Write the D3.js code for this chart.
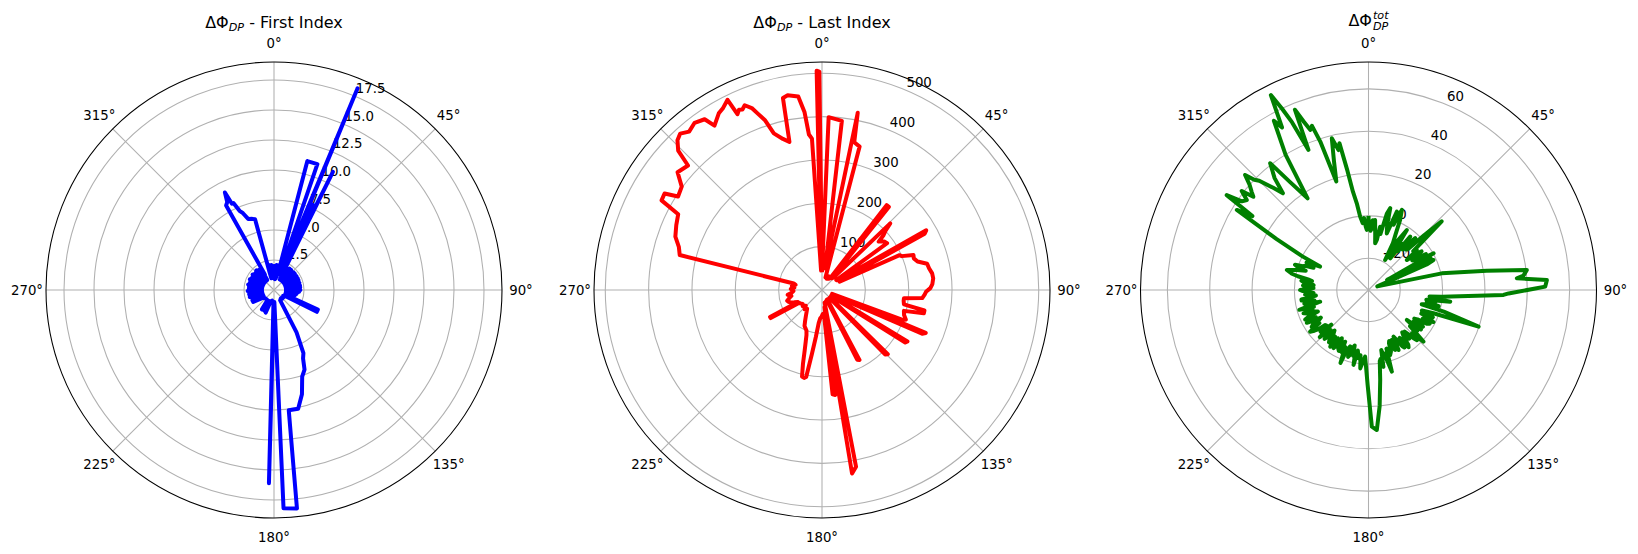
<!DOCTYPE html>
<html><head><meta charset="utf-8">
<script src="https://cdn.jsdelivr.net/npm/d3@7"></script>
<style>
body{margin:0;background:#fff}
svg{display:block}
text{font-family:"DejaVu Sans",sans-serif;fill:#000}
</style></head>
<body><svg id="c" width="1638" height="554"></svg>
<script>
// ---------- data (angle in degrees clockwise from north, radial value) ----------
const thetaTicks = [0,45,90,135,180,225,270,315];
const thetaLabels = ["0°","45°","90°","135°","180°","225°","270°","315°"];

const ticks1 = [2.5,5,7.5,10,12.5,15,17.5];
const tickLabels1 = ["2.5","5.0","7.5","10.0","12.5","15.0","17.5"];
const ticks2 = [100,200,300,400,500];
const tickLabels2 = ["100","200","300","400","500"];
const ticks3 = [-20,0,20,40,60];
const tickLabels3 = ["\u221220","0","20","40","60"];

const series1 = [[0,1.6],[1,1.0],[2,2.0],[3,1.1],[4,1.9],[5,0.9],[6,2.1],[7,1.2],[8,2.0],[9,1.0],[10,1.9],[11,1.1],[12,2.1],[13.5,1.3],[14.5,11.1],[19,11.1],[20,1.4],[21.5,2.0],[22.5,18.2],[23.5,1.6],[24.5,7.8],[25.5,1.5],[26.5,11.0],[27.5,1.8],[29,1.0],[30,2.0],[31,1.1],[32,2.1],[33,1.0],[34,1.9],[35,1.2],[36,2.2],[37,1.0],[38,2.0],[39,1.1],[40,2.2],[41,1.0],[42,1.9],[43,1.2],[44,2.1],[45,1.0],[46,2.0],[47,1.1],[48,2.2],[49,1.0],[50,2.0],[51,1.2],[52,2.2],[53,1.0],[54,1.9],[55,1.1],[56,2.1],[57,1.0],[58,2.2],[59,1.1],[60,2.0],[61,1.0],[62,2.1],[63,1.2],[64,2.2],[65,1.0],[66,2.0],[67,1.1],[68,2.2],[69,1.0],[70,2.1],[71,1.2],[72,2.0],[73,1.0],[74,2.2],[75,1.1],[76,2.1],[77,1.0],[78,2.0],[79,1.2],[80,2.2],[81,1.0],[82,2.1],[83,1.1],[84,2.2],[85,1.0],[86,2.0],[87,1.2],[88,2.1],[89,1.0],[90,2.2],[91,1.1],[92,2.0],[93,1.0],[94,2.1],[95,1.2],[96,2.0],[97,1.0],[98,1.9],[99,1.1],[100,1.9],[101,1.0],[102,1.8],[103,1.2],[104,1.8],[105,1.0],[106,1.7],[107,1.1],[108,1.6],[109,1.0],[111,1.5],[113,1.2],[114,4.0],[117,4.0],[118,1.0],[122,0.9],[127,1.0],[132,0.9],[137,1.0],[142,0.9],[147,1.0],[149,1.0],[152,4.0],[155,5.8],[157,6.2],[159,7.1],[162,7.6],[165,9.0],[168.5,10.1],[173,10.1],[174,18.3],[177.5,18.2],[178.2,1.0],[180.5,1.0],[181.5,16.1],[182.5,1.0],[186,1.0],[190,0.9],[196,1.0],[200,2.0],[201,1.0],[205,1.9],[206,1.0],[212,1.9],[213,1.0],[220,1.0],[227,1.0],[234,1.1],[240,2.0],[241,1.0],[244,2.0],[245,1.0],[248,1.8],[249,1.0],[250,1.9],[251,1.1],[252,2.0],[253,1.0],[254,2.1],[255,1.1],[256,1.9],[257,1.0],[258,2.0],[259,1.2],[260,2.1],[261,1.0],[262,2.0],[263,1.1],[264,2.1],[265,1.0],[266,2.0],[267,1.2],[268,2.2],[269,1.0],[270,2.1],[271,1.1],[272,2.0],[273,1.0],[274,2.1],[275,1.2],[276,2.0],[277,1.0],[278,2.1],[279,1.1],[280,2.0],[281,1.0],[282,2.2],[283,1.1],[284,1.9],[285,1.0],[286,2.1],[287,1.2],[288,2.0],[289,1.0],[290,2.1],[291,1.1],[292,2.0],[293,1.0],[294,2.2],[295,1.1],[296,2.0],[297,1.0],[298,2.1],[299,1.2],[300,2.0],[301,1.0],[302,2.1],[303,1.1],[304,2.0],[305,1.0],[306,2.2],[307,1.1],[308,2.0],[309,1.0],[310,2.1],[311,1.2],[312,2.0],[313,1.0],[314,2.1],[315,1.1],[316,2.0],[317,1.0],[318,2.2],[319,1.1],[320,2.0],[321,1.0],[322,2.1],[323,1.2],[324,2.0],[325,1.0],[326,2.1],[327,1.1],[328,2.0],[329.5,1.5],[330.5,8.1],[332,8.3],[333.3,9.1],[334,8.0],[335,8.0],[336.5,7.2],[338,6.9],[340,6.3],[343,6.2],[345,6.1],[346,1.6],[347,1.0],[348,2.0],[349,1.1],[350,2.1],[351,1.0],[352,2.0],[353,1.2],[354,2.1],[355,1.0],[356,1.9],[357,1.1],[358,2.0],[359,1.0],[360,1.6]];

const series2 = [[0.3,46],[1.5,110],[2.2,399],[6.7,393],[7.2,117],[8.2,50],[11.4,417],[12.3,349],[14.7,342],[15.5,30],[19,35],[23,28],[27,35],[31,30],[35,35],[37.3,246],[38.8,246],[39.8,35],[43,40],[45.7,220],[47,200],[48.3,190],[49.5,172],[52,182],[54.3,185],[55.5,40],[58.5,45],[60.2,277],[61.3,270],[62.5,45],[64.5,45],[65.8,196],[67,200],[69,226],[71,224],[73.4,230],[76,250],[78.5,252],[81.4,257],[84,258],[86.9,255],[89,250],[91,240],[92.6,237],[94.6,232],[95.7,190],[97.5,190],[100,192],[101.3,241],[102.9,241],[104.3,195],[107,198],[109.4,205],[110.3,200],[111.3,25],[112.5,259],[113.6,252],[114.8,25],[119.8,25],[121,230],[122.2,227],[123.2,25],[127,28],[133.3,25],[134.3,212],[135.6,208],[136.6,25],[141,30],[146,25],[150.8,25],[151.8,183],[153.2,180],[154.2,25],[158,30],[162,28],[166,30],[168.3,30],[169.1,415],[170.7,429],[171.6,40],[172.8,244],[174.2,242],[175.3,60],[178,55],[181,62],[183.5,65],[185.7,77],[187.5,110],[189,150],[190.3,204],[191.5,207],[193,205],[194.5,175],[196,145],[197.5,125],[199,110],[201,100],[203.5,96],[206,92],[209,80],[212,70],[215,62],[218.7,55],[222,60],[226,52],[230,58],[234,55],[238.4,59],[240.6,60],[241.3,135],[242.6,135],[243.5,62],[246,70],[248.5,78],[250.7,82],[253,84],[256,78],[259,72],[262,80],[265,70],[268,66],[272,72],[275,64],[278,70],[281,62],[283,67],[283.8,338],[286.8,345],[290,360],[294,368],[297.8,375],[299.2,424],[301.5,426],[303,396],[306.4,402],[309.2,430],[312.9,422],[314.1,462],[316,480],[317.8,487],[320,477],[322.7,485],[325.5,478],[326.8,453],[329.7,472],[331.5,478],[333.6,490],[334.3,450],[335.3,458],[336.2,455],[337.3,462],[338.9,450],[340,433],[341.4,414],[342.9,378],[345.5,360],[347.6,350],[348.5,452],[350,456],[353,450],[354.4,412],[355.2,360],[356.2,350],[357.3,45],[358.6,506],[359.3,504],[360,46]];

const series3 = [[0,-1],[1,-5],[2,-7],[3.5,-2],[4.5,-6],[5.4,-1.8],[7,-9],[8.1,-12.7],[9.5,-11],[10.4,-4.6],[12,-8],[13.5,2],[14.9,5],[16,-3],[17.9,-6.9],[19.9,4.4],[21,-2],[22.6,6],[24.3,1.3],[26,-6],[27.5,-10],[29,-18.8],[30.5,-8],[32.6,-1.4],[34.4,-16.9],[36,-8],[37,-12],[38,-3],[40,-10],[42,-2],[43,-9],[44,-8],[45.5,2],[46.8,12.4],[48,0],[49,-7],[50.4,-5.4],[52,-12],[53,-6],[54,-4],[56,-10],[58,-3],[59,-9],[60.6,0.3],[61.5,-25],[62.5,-2],[64,-10],[65.2,-1.2],[66.3,-5],[67.8,-30.5],[77.2,0.5],[80.7,21.6],[82.8,40.4],[84.7,38.5],[85.5,35.3],[86.8,49.4],[88.9,48.5],[89.5,43.8],[91.4,31.2],[92.1,28.8],[95.2,-0.2],[96,-6],[97,-5],[98.1,4],[99.5,-7.3],[100.5,-3],[101.3,-6.9],[103,-1],[104,-7],[105,-9],[106,2],[108.4,19.8],[109.7,-2.4],[111,-8],[112,-4],[113,-2],[114,-7.7],[115,-3],[116.3,-0.8],[118,-6],[119,-2],[120,-3],[121,-8],[122,-9.5],[123,-5],[124,-4],[125,-9],[126,-6.8],[127,-4],[128,-12],[129,-7],[130,-5],[131,-9],[133.2,0.6],[134,-4],[135,-6],[136,-2],[137,-3.8],[138,-7],[139,-9],[140,-5],[141.5,-9.4],[143,-7.4],[144,-3],[145,-2],[146,-6],[147,-8],[148,-3],[149,-4],[150,-7],[151.8,-10],[153.4,-3.3],[154,-6],[155,-9],[156,-4],[157,-5],[158,-9],[159,-8],[160,-4],[161.6,-2.6],[163,-6],[164,5.1],[165.3,-0.8],[166,-4],[167,-3],[168,-6],[169,2],[170,-2],[171,-1],[172.6,7.9],[174.5,20],[176.6,31.3],[178.6,29.6],[180.5,10],[182.9,-3.5],[184.5,-1],[186,2.2],[187,-4],[188.3,-2.4],[190,-6],[191.3,1.1],[192,-5],[193,-3],[194,-8],[195,-7],[196,-3],[197,-2],[198,-7],[199.9,-4.9],[201,1.9],[202.5,-6],[203.5,-3],[204.3,-8.2],[206,-3],[207.5,-4],[208,-8],[209,-9],[210,-5],[211,-3],[212.5,-8],[214,-2.7],[215,-6],[216,-8],[217,-4],[218,-5],[219,-9],[220,-10],[221,-6],[222,-4],[223.5,-9],[225,-6],[226,-3],[227,-11],[228,-7],[229,-5],[230,-9],[231,-8.7],[232,-5],[233,-3],[234.5,-1.1],[236,-7],[237,-3],[238,-4],[239,-8],[240,-9],[241,-5],[242,-2],[243,-7],[244,-6],[245,-2],[246,-4],[247,-9],[248,-8],[249,-4],[250.3,-2.4],[251,-7],[252,-5],[253,-8],[254,-1],[255,-6],[256.4,-11.5],[257,-7],[258,-4],[259,-9],[260,-8],[261,-3],[262,-3],[263,-8],[264,-10],[265,-6],[266,-5],[267,-9],[268,-7],[269,-4],[270,-2.7],[271,-6],[272,-9],[273,-5],[274,-4],[275,-9],[276,-8],[277,-4],[278,-3],[279,-8],[280,-6],[281,-1],[282,2],[283.8,4.7],[285.6,0.1],[287,-4],[288,0],[289,1.7],[290,-2],[291,-3],[292,-7],[293,-6],[294,-3],[295.8,-9.6],[297,0],[299,14.6],[301.3,37.8],[302.5,30],[303.8,45.6],[305,38],[306.5,36.5],[308,41],[309,35],[310,37],[311.5,40],[313,44.7],[314,40],[315,38],[317,31],[318.5,26],[320,34],[322.2,40.8],[324,28],[326.4,17],[328.5,40],[330.8,56.6],[332,52],[333.4,68],[334.5,60],[335.5,52],[336.8,37],[337.8,57],[339,50],[340,45.5],[341,47],[342,38.7],[343.5,18.5],[345,28],[346.4,38.7],[347.9,32.6],[348.8,35.7],[350,22],[351,12],[352.3,6.3],[353.5,-0.1],[355,-3.3],[356.5,-1],[357.5,-5],[358.4,-6.6],[360,-1]];

// ---------- layout ----------
const R = 228;
const panels = [
  {cx:274,  cy:290, domain:[0,19.0],    data:series1, color:"#0000ff", ticks:ticks1, labels:tickLabels1, title:"first"},
  {cx:822,  cy:290, domain:[0,526],     data:series2, color:"#ff0000", ticks:ticks2, labels:tickLabels2, title:"last"},
  {cx:1368.5,cy:290, domain:[-35,72.7], data:series3, color:"#008000", ticks:ticks3, labels:tickLabels3, title:"tot"}
];

const svg = d3.select("#c");
const rad = d => d*Math.PI/180;

panels.forEach(p => {
  const g = svg.append("g").attr("transform",`translate(${p.cx},${p.cy})`);
  const r = d3.scaleLinear().domain(p.domain).range([0,R]);

  g.selectAll("circle.grid").data(p.ticks).join("circle")
    .attr("r", d => r(d)).attr("fill","none").attr("stroke","#b0b0b0").attr("stroke-width",1.07);
  g.selectAll("line.spoke").data(thetaTicks).join("line")
    .attr("x1",0).attr("y1",0)
    .attr("x2", d => R*Math.sin(rad(d))).attr("y2", d => -R*Math.cos(rad(d)))
    .attr("stroke","#b0b0b0").attr("stroke-width",1.07);

  const la = rad(22.5);
  g.selectAll("text.rl").data(p.ticks).join("text")
    .attr("x", d => r(d)*Math.sin(la) + 1.5)
    .attr("y", d => -r(d)*Math.cos(la) - 3)
    .attr("font-size","13.3px")
    .text((d,i) => p.labels[i]);

  g.selectAll("text.tl").data(thetaTicks).join("text")
    .attr("x", d => 247*Math.sin(rad(d)))
    .attr("y", d => -247*Math.cos(rad(d)))
    .attr("dy","0.36em")
    .attr("text-anchor","middle")
    .attr("font-size","13.3px")
    .text((d,i) => thetaLabels[i]);

  const line = d3.lineRadial()
    .angle(d => rad(d[0]))
    .radius(d => r(d[1]));
  g.append("path").datum(p.data)
    .attr("d", line)
    .attr("fill","none")
    .attr("stroke", p.color)
    .attr("stroke-width",4)
    .attr("stroke-linejoin","round")
    .attr("stroke-linecap","square");

  g.append("circle").attr("r",R).attr("fill","none").attr("stroke","#000").attr("stroke-width",1.07);

  if (p.title === "first" || p.title === "last") {
    const t = svg.append("text").attr("x",p.cx).attr("y",28).attr("text-anchor","middle").attr("font-size","16px");
    t.append("tspan").text("\u0394\u03A6");
    t.append("tspan").attr("font-style","italic").attr("font-size","11.2px").attr("dy",3).text("DP");
    t.append("tspan").attr("dy",-3).text(p.title === "first" ? " - First Index" : " - Last Index");
  } else {
    const base = svg.append("text").attr("y",26).attr("font-size","16px").text("\u0394\u03A6");
    const sup = svg.append("text").attr("y",19).attr("font-size","11.2px").attr("font-style","italic").text("tot");
    const sub = svg.append("text").attr("y",29.5).attr("font-size","11.2px").attr("font-style","italic").text("DP");
    const w0 = base.node().getComputedTextLength();
    const w1 = sup.node().getComputedTextLength();
    const w2 = sub.node().getComputedTextLength();
    const total = w0 + Math.max(w1,w2) + 1;
    const x0 = p.cx - total/2;
    base.attr("x", x0);
    sup.attr("x", x0 + w0 + 1);
    sub.attr("x", x0 + w0 + 1);
  }
});
</script>
</body></html>
